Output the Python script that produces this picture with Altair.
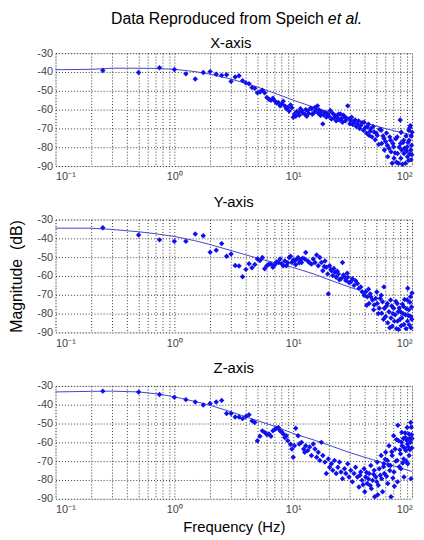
import altair as alt
import pandas as pd

# ---------------- data ----------------
x_freq = [0.25,0.5,0.75,1.0,1.25,1.5,1.75,2.0,2.25,2.5,2.75,3.0,3.25,3.5,3.75,4.0,4.25,4.5,4.75,5.0,
          5.25,5.5,5.75,6.0,6.25,6.5,6.75,7.0,7.25,7.5,7.75,8.0,8.25,8.5,8.75,9.0,9.25,9.5,9.75,10.0,
          10.25,10.5,10.75,11.0,11.25,11.5,11.75,12.0,12.5,12.75,13.0,13.25,13.5,14.0,14.25,14.5,15.0,15.25,15.5,16.0,
          16.25,16.5,17.0,17.25,17.75,18.0,18.5,19.0,19.5,20.0,20.5,21.0,21.5,22.0,22.5,23.0,23.5,24.0,24.5,25.0,
          25.5,26.0,26.5,27.0,27.5,28.0,28.75,29.5,30.0,30.5,31.0,31.75,32.5,33.25,34.0,34.75,35.5,36.25,37.0,38.0,
          39.0,39.5,40.5,41.5,42.0,43.0,43.5,44.5,45.0,46.0,47.0,48.0,49.0,50.0,51.0,52.5,53.5,55.0,55.5,57.0,
          58.0,58.5,60.0,61.0,62.0,62.5,64.0,65.0,66.0,66.5,68.0,69.0,70.0,70.5,72.0,73.0,74.0,75.0,75.5,77.0,
          78.0,79.5,80.0,80.5,81.0,82.0,83.0,84.0,85.0,85.5,86.5,88.0,89.0,90.0,91.0,91.5,92.5,93.5,94.0,94.5,
          95.5,96.0,97.0,97.5,98.0,98.5,99.0,99.5,100.0]
x_mag = [-39.2,-40.3,-37.8,-38.7,-41.0,-43.7,-40.3,-39.8,-41.2,-41.8,-41.5,-45.0,-42.7,-42.0,-44.6,-45.8,-46.3,-48.3,-48.7,-51.0,
         -50.6,-49.7,-51.0,-53.6,-54.5,-55.0,-54.0,-55.4,-56.5,-56.2,-58.0,-57.1,-55.5,-58.0,-59.5,-58.9,-60.8,-57.5,-59.0,-64.1,
         -62.3,-63.5,-61.0,-61.5,-63.0,-59.5,-60.6,-61.8,-62.3,-60.0,-63.5,-60.6,-62.0,-59.2,-59.7,-62.5,-61.5,-58.9,-60.5,-58.0,
         -62.0,-60.2,-63.2,-61.0,-67.6,-62.8,-61.5,-64.0,-62.3,-63.5,-60.5,-65.0,-62.0,-64.5,-63.2,-66.0,-64.1,-62.5,-65.5,-62.3,
         -64.8,-66.7,-63.0,-64.0,-66.0,-64.5,-58.0,-65.0,-67.5,-65.8,-64.0,-68.0,-66.7,-65.5,-69.0,-67.6,-66.0,-70.0,-68.5,-67.0,
         -71.0,-66.7,-69.5,-72.5,-69.3,-67.8,-73.7,-71.5,-70.2,-74.5,-69.0,-71.9,-76.0,-72.5,-73.7,-78.5,-70.5,-71.0,-78.0,-74.0,
         -75.4,-81.5,-77.0,-72.5,-78.9,-85.0,-80.5,-74.5,-76.3,-82.4,-88.5,-78.0,-79.8,-85.9,-83.0,-75.5,-88.0,-74.6,-83.3,-88.5,
         -80.0,-65.5,-78.0,-85.9,-72.0,-81.5,-89.0,-77.5,-76.3,-83.3,-80.5,-88.5,-74.0,-82.0,-79.8,-85.0,-77.5,-87.0,-71.0,-76.3,
         -83.5,-69.5,-68.5,-81.5,-86.7,-74.0,-79.0,-84.0,-72.0]

y_freq = [0.25,0.5,0.75,1.0,1.25,1.5,1.75,2.0,2.25,2.5,2.75,3.0,3.25,3.5,3.75,4.0,4.25,4.5,4.75,5.0,
          5.25,5.5,5.75,6.0,6.25,6.5,6.75,7.0,7.25,7.5,7.75,8.0,8.25,8.5,8.75,9.0,9.25,9.5,9.75,10.0,
          10.25,10.5,10.75,11.0,11.25,11.5,11.75,12.0,12.5,12.75,13.25,13.75,14.25,14.75,15.25,15.75,16.25,16.75,17.25,17.75,
          18.25,18.5,19.0,19.5,19.75,20.25,20.75,21.0,21.5,22.0,22.5,23.0,23.5,24.0,24.5,25.25,26.0,26.5,27.0,27.75,
          28.5,28.75,29.5,30.5,31.5,32.5,33.5,34.75,35.75,37.0,38.0,39.5,40.75,41.5,42.0,43.0,43.5,44.5,45.0,46.5,
          47.5,48.0,49.5,50.5,51.0,52.0,53.0,54.0,55.0,55.5,56.5,57.5,58.0,58.5,60.0,61.0,62.0,62.5,64.0,65.0,
          66.0,66.5,67.5,68.0,69.0,70.0,71.0,72.0,73.0,74.0,75.0,75.5,76.5,77.0,78.0,79.0,80.0,81.0,82.0,83.0,
          84.0,85.0,85.5,86.5,88.0,89.0,90.0,91.0,91.5,92.0,93.0,94.0,95.0,96.0,97.0,97.5,98.0,99.0,99.5,100.0]
y_mag = [-34.4,-38.2,-40.8,-41.6,-41.6,-37.7,-38.6,-47.4,-46.3,-42.8,-49.5,-48.3,-54.4,-54.7,-60.4,-56.5,-53.5,-55.6,-53.9,-51.0,
         -51.8,-50.2,-56.2,-54.6,-53.8,-53.7,-55.4,-54.0,-52.5,-52.8,-51.0,-53.5,-54.6,-52.0,-54.6,-53.0,-50.2,-49.5,-52.8,-51.5,
         -52.0,-54.0,-51.0,-50.2,-53.0,-51.5,-52.8,-50.5,-51.0,-47.5,-52.0,-53.0,-53.7,-51.0,-52.8,-48.9,-54.6,-50.2,-52.8,-57.2,
         -55.0,-52.0,-55.4,-58.9,-69.5,-54.6,-56.5,-57.2,-59.8,-56.0,-58.1,-60.7,-57.5,-58.9,-62.0,-61.5,-52.8,-59.5,-60.7,-62.4,
         -58.5,-60.7,-63.5,-63.2,-61.5,-65.0,-62.5,-64.0,-66.6,-65.8,-68.4,-70.2,-68.4,-75.6,-71.0,-67.0,-74.6,-69.5,-71.0,-72.8,
         -78.0,-75.4,-71.9,-68.5,-74.6,-80.0,-77.2,-72.0,-70.2,-79.8,-73.7,-83.0,-65.8,-77.2,-81.5,-76.0,-74.6,-84.9,-79.0,-87.5,
         -72.8,-82.3,-76.0,-86.7,-80.0,-77.2,-84.0,-80.6,-73.5,-88.0,-74.6,-84.0,-79.0,-88.4,-77.0,-83.0,-79.0,-86.5,-82.3,-75.0,
         -80.0,-76.3,-85.8,-72.5,-80.6,-88.0,-77.5,-72.8,-84.0,-66.5,-81.0,-78.0,-86.0,-74.0,-71.0,-81.5,-87.5,-76.5,-83.0,-69.0]

z_freq = [0.25,0.5,0.75,1.0,1.25,1.5,1.75,2.0,2.25,2.5,2.75,3.0,3.25,3.5,3.75,4.0,4.25,4.5,4.75,5.0,
          5.25,5.5,5.75,6.0,6.25,6.5,6.75,7.0,7.25,7.5,7.75,8.0,8.25,8.5,8.75,9.0,9.5,9.75,10.0,10.25,
          10.5,11.0,11.25,11.75,12.25,12.5,12.75,13.25,13.75,14.25,14.75,15.25,15.75,16.25,16.75,17.25,17.75,18.5,19.0,19.75,
          20.25,21.0,21.5,22.25,23.0,23.75,24.5,25.25,26.0,27.0,27.75,28.75,29.5,30.5,31.5,32.5,33.5,34.75,35.75,36.5,
          37.0,38.0,38.75,39.5,40.0,40.75,41.5,42.0,43.0,43.5,44.5,45.0,45.5,46.5,47.5,48.0,48.5,49.5,50.5,51.0,
          51.5,52.0,53.0,54.0,55.0,55.5,56.5,57.5,58.0,58.5,59.5,60.0,61.0,62.0,62.5,63.5,64.0,65.0,66.0,66.5,
          67.5,68.0,69.0,70.0,70.5,71.0,72.0,73.0,74.0,75.0,75.5,76.0,77.0,78.0,79.0,80.0,80.5,81.5,82.0,82.5,
          83.5,84.5,85.0,85.5,86.5,87.5,88.0,88.5,89.5,90.5,91.0,91.5,92.0,93.0,94.0,94.5,95.5,96.0,97.0,97.5,
          98.0,98.5,99.0,99.5,100.0]
z_mag = [-32.8,-33.3,-34.6,-36.0,-37.3,-38.6,-40.2,-39.3,-38.6,-37.7,-44.7,-44.7,-46.5,-46.5,-47.4,-46.3,-45.3,-48.6,-49.5,-59.2,
         -56.8,-53.9,-54.7,-55.8,-55.6,-56.8,-53.9,-53.0,-52.5,-52.1,-53.9,-54.5,-55.6,-57.5,-56.5,-59.1,-61.0,-63.5,-67.9,-61.8,
         -52.5,-56.5,-60.9,-60.0,-63.5,-65.3,-61.8,-64.4,-62.5,-67.0,-60.9,-63.5,-67.9,-65.3,-69.6,-60.0,-67.0,-70.5,-76.6,-68.8,
         -73.2,-71.4,-74.9,-69.6,-76.6,-73.2,-70.5,-75.8,-79.3,-74.0,-76.6,-71.4,-78.4,-74.9,-81.0,-76.6,-73.2,-78.4,-83.7,-77.5,
         -75.8,-80.2,-82.5,-74.0,-86.3,-78.4,-76.0,-81.9,-79.5,-76.6,-83.0,-72.3,-84.6,-80.2,-77.0,-74.9,-88.9,-78.4,-81.0,-70.5,
         -87.9,-82.8,-74.0,-77.5,-67.0,-79.3,-86.3,-73.0,-71.4,-76.6,-69.0,-65.3,-78.0,-69.6,-81.9,-72.0,-61.8,-75.0,-72.3,-88.9,
         -65.0,-67.0,-79.0,-56.5,-75.8,-83.3,-63.5,-70.0,-58.5,-69.6,-81.0,-50.9,-59.1,-73.0,-64.0,-66.1,-74.0,-60.0,-54.7,-61.8,
         -71.0,-58.0,-68.8,-78.4,-63.0,-55.0,-57.4,-64.4,-70.0,-59.0,-52.1,-60.9,-71.4,-62.5,-55.6,-67.0,-58.0,-64.0,-60.0,-49.5,
         -79.3,-52.0,-56.0,-63.0,-58.0]

# fitted curves
x_fit_freq = [0.1,0.2,0.3,0.5,0.7,1,1.5,2,3,4,5,7,10,15,20,30,50,70,100]
x_fit_mag = [-38.8,-38.6,-38.0,-38.0,-38.1,-38.6,-39.8,-41.2,-43.8,-46.0,-48.0,-51.3,-55.0,-58.8,-61.3,-64.8,-68.8,-71.2,-73.5]
y_fit_freq = [0.1,0.2,0.3,0.5,0.7,1,1.5,2,3,4,5,7,10,15,20,30,35]
y_fit_mag = [-34.6,-34.6,-35.3,-36.5,-37.6,-39.0,-41.3,-43.3,-46.5,-48.8,-50.5,-53.0,-55.5,-59.0,-62.0,-66.0,-67.3]
z_fit_freq = [0.1,0.2,0.3,0.5,0.75,1,1.5,2,3,5,7,10,15,20,30,50,70,100]
z_fit_mag = [-33.2,-32.9,-32.8,-33.2,-34.4,-35.8,-38.3,-40.3,-43.8,-48.5,-51.5,-55.3,-58.8,-61.5,-65.5,-69.8,-72.5,-75.5]

panel_titles = ["X-axis", "Y-axis", "Z-axis"]
main_title = ["Data Reproduced from Speich", "et al."]
x_ticks = [0.1,0.2,0.3,0.4,0.5,0.6,0.7,0.8,0.9,1,2,3,4,5,6,7,8,9,10,20,30,40,50,60,70,80,90,100]
y_ticks = [-90,-80,-70,-60,-50,-40,-30]

FONT = "Liberation Sans"
PT_COLOR = "#1010ee"
LINE_COLOR = "#4444cc"

label_expr = ("datum.value == 0.1 ? '10\u207b\u00b9' : datum.value == 1 ? '10\u2070' : "
              "datum.value == 10 ? '10\u00b9' : datum.value == 100 ? '10\u00b2' : ''")


def text_mark(txt, x, y, align, size=15, style="normal"):
    return alt.Chart(pd.DataFrame({"t": [txt]})).mark_text(
        align=align, baseline="alphabetic", font=FONT, fontSize=size,
        fontStyle=style, color="black").encode(x=alt.value(x), y=alt.value(y), text="t:N")


def panel(title, freq, mag, ffreq, fmag, ytitle=None, xtitle=None, use_title=True):
    pts = pd.DataFrame({"f": freq, "m": mag})
    fit = pd.DataFrame({"f": ffreq, "m": fmag})
    xaxis = alt.Axis(values=x_ticks, labelExpr=label_expr, ticks=False, domain=False,
                     labelPadding=5, labelFontSize=11, labelColor="#444", labelFont=FONT,
                     gridDash=[1, 2], gridColor="#222", gridOpacity=0.9,
                     title=xtitle if xtitle else None, titleFont=FONT, titleFontSize=15,
                     titleFontWeight="normal", titleColor="black", titlePadding=5)
    yaxis = alt.Axis(values=y_ticks, labelExpr="'' + datum.value", ticks=False, domain=False,
                     labelPadding=3, labelFontSize=11, labelColor="#444", labelFont=FONT,
                     gridDash=[1, 2], gridColor="#222", gridOpacity=0.9,
                     title=ytitle if ytitle else None, titleFont=FONT, titleFontSize=16,
                     titleFontWeight="normal", titleColor="black", titlePadding=12)
    x = alt.X("f:Q", scale=alt.Scale(type="log", domain=[0.1, 100]), axis=xaxis)
    y = alt.Y("m:Q", scale=alt.Scale(domain=[-90, -30]), axis=yaxis)
    line = alt.Chart(fit).mark_line(color=LINE_COLOR, strokeWidth=1).encode(x=x, y=y)
    dots = alt.Chart(pts).mark_point(shape="diamond", filled=True, size=30, color=PT_COLOR,
                                     opacity=1).encode(x=x, y=y)
    layer = alt.layer(line, dots)
    if use_title:
        return layer.properties(
            width=360, height=114,
            title=alt.TitleParams(title, font=FONT, fontSize=15, fontWeight="normal",
                                  color="black", offset=4))
    return layer.properties(width=360, height=114)


p1 = alt.layer(
    panel(panel_titles[0], x_freq, x_mag, x_fit_freq, x_fit_mag, use_title=False),
    text_mark(panel_titles[0], 177, -5, "center"),
    text_mark(main_title[0], 271, -29, "right", size=16),
    text_mark(main_title[1], 275, -29, "left", size=16, style="italic"),
).properties(width=360, height=114)
p2 = panel(panel_titles[1], y_freq, y_mag, y_fit_freq, y_fit_mag, ytitle="Magnitude\u00a0 (dB)")
p3 = panel(panel_titles[2], z_freq, z_mag, z_fit_freq, z_fit_mag, xtitle="Frequency (Hz)")

chart = alt.vconcat(p1, p2, p3, spacing=11).properties(
    padding={"left": 0, "top": 0, "right": 0, "bottom": 0}
).configure_view(
    stroke="#333", strokeWidth=1
).configure(background="white")

chart.save("out.html", embed_options={"renderer": "svg", "actions": False})
